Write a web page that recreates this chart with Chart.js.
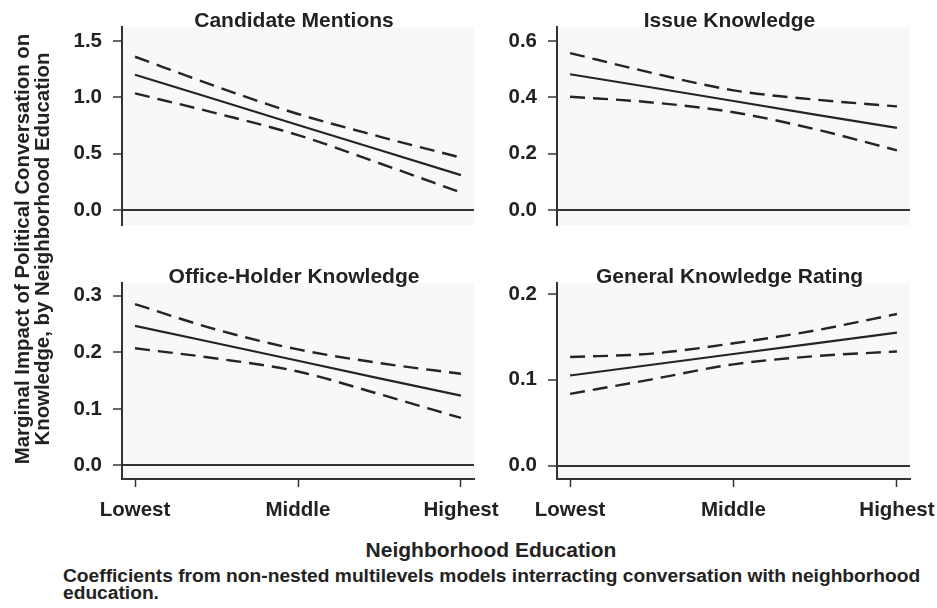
<!DOCTYPE html>
<html>
<head>
<meta charset="utf-8">
<script src="https://cdn.jsdelivr.net/npm/chart.js@4.4.1/dist/chart.umd.min.js"></script>
<style>
  html, body { margin: 0; padding: 0; background: #fff; }
  body {
    width: 937px; height: 608px; position: relative; overflow: hidden;
    font-family: "Liberation Sans", Arial, Helvetica, sans-serif;
    font-weight: bold; color: #222;
  }
  canvas { position: absolute; }
  .ytitle {
    position: absolute; left: -218.1px; top: 229px; width: 500px; height: 40px;
    font-size: 20.4px; line-height: 20px; text-align: center; white-space: nowrap;
    transform: rotate(-90deg); transform-origin: 50% 50%;
  }
  .xtitle {
    position: absolute; left: 291px; top: 538.5px; width: 400px;
    font-size: 21px; line-height: 22px; text-align: center; white-space: nowrap;
  }
  .caption {
    position: absolute; left: 63px; top: 567px; width: 874px;
    font-size: 19.2px; line-height: 17px; white-space: nowrap;
  }
</style>
</head>
<body>
<canvas id="pCand" width="500" height="240" style="left:0;top:0;width:500px;height:240px"></canvas>
<canvas id="pIssue" width="457" height="240" style="left:480px;top:0;width:457px;height:240px"></canvas>
<canvas id="pOffice" width="500" height="280" style="left:0;top:250px;width:500px;height:280px"></canvas>
<canvas id="pGeneral" width="457" height="280" style="left:480px;top:250px;width:457px;height:280px"></canvas>

<div class="ytitle">Marginal Impact of Political Conversation on<br>Knowledge, by Neighborhood Education</div>
<div class="xtitle">Neighborhood Education</div>
<div class="caption">Coefficients from non-nested multilevels models interracting conversation with neighborhood<br>education.</div>

<script>
// Neighborhood education positions (0 = lowest, 1 = highest)
const eduLevels = [0, 0.25, 0.5, 0.75, 1];
const eduTickValues = [0, 0.5, 1];
const eduTickLabels = ['Lowest', 'Middle', 'Highest'];

// Candidate Mentions: estimate with upper/lower confidence bounds
const candTitle = 'Candidate Mentions';
const candEst   = [1.20, 0.978, 0.755, 0.533, 0.31];
const candUpper = [1.36, 1.095, 0.852, 0.652, 0.465];
const candLower = [1.035, 0.858, 0.665, 0.415, 0.155];
const candYTicks = [0, 0.5, 1.0, 1.5];

// Issue Knowledge
const issueTitle = 'Issue Knowledge';
const issueEst   = [0.482, 0.435, 0.387, 0.339, 0.292];
const issueUpper = [0.557, 0.487, 0.425, 0.392, 0.368];
const issueLower = [0.402, 0.382, 0.347, 0.287, 0.212];
const issueYTicks = [0, 0.2, 0.4, 0.6];

// Office-Holder Knowledge
const officeTitle = 'Office-Holder Knowledge';
const officeEst   = [0.2466, 0.216, 0.185, 0.154, 0.1233];
const officeUpper = [0.285, 0.240, 0.205, 0.181, 0.162];
const officeLower = [0.207, 0.189, 0.166, 0.126, 0.084];
const officeYTicks = [0, 0.1, 0.2, 0.3];

// General Knowledge Rating
const genTitle = 'General Knowledge Rating';
const genEst   = [0.105, 0.1175, 0.130, 0.1425, 0.155];
const genUpper = [0.1265, 0.1305, 0.1425, 0.1575, 0.1767];
const genLower = [0.0835, 0.1005, 0.118, 0.1275, 0.133];
const genYTicks = [0, 0.1, 0.2];

const INK = '#242424';
const AXIS = '#333333';
const FONT = '"Liberation Sans", Arial, Helvetica, sans-serif';

// Panel background and title centred over the plotting area
const panelDecor = {
  id: 'panelDecor',
  beforeDraw(chart) {
    const { ctx, chartArea: a } = chart;
    ctx.save();
    ctx.fillStyle = '#f8f8f8';
    ctx.fillRect(a.left, a.top, a.right - a.left, a.bottom - a.top);
    ctx.restore();
  },
  afterDraw(chart, args, opts) {
    const { ctx, chartArea: a } = chart;
    ctx.save();
    ctx.font = 'bold 21px ' + FONT;
    ctx.fillStyle = '#222';
    ctx.textAlign = 'center';
    ctx.textBaseline = 'alphabetic';
    ctx.fillText(opts.text, (a.left + a.right) / 2 - 4, a.top - 0.5);
    ctx.restore();
  }
};

function series(values) {
  return eduLevels.map((x, i) => ({ x: x, y: values[i] }));
}

function buildPanel(id, p) {
  const dashed = { borderDash: [15, 8], borderWidth: 2.4, cubicInterpolationMode: 'monotone', borderColor: INK };
  new Chart(document.getElementById(id), {
    type: 'line',
    data: {
      datasets: [
        Object.assign({ label: 'Upper', data: series(p.upper) }, dashed),
        { label: 'Estimate', data: series(p.est), borderWidth: 2.2, borderColor: INK, tension: 0 },
        Object.assign({ label: 'Lower', data: series(p.lower) }, dashed)
      ]
    },
    options: {
      responsive: false,
      animation: false,
      events: [],
      layout: { padding: p.padding },
      elements: { point: { radius: 0 }, line: { fill: false } },
      plugins: {
        legend: { display: false },
        tooltip: { enabled: false },
        title: { display: false },
        panelDecor: { text: p.title }
      },
      scales: {
        x: {
          type: 'linear', min: -0.04, max: 1.04,
          display: p.showX,
          afterBuildTicks: s => { s.ticks = eduTickValues.map(v => ({ value: v })); },
          ticks: {
            autoSkip: false, maxRotation: 0, padding: 11, color: '#222',
            font: { family: FONT, size: 20.5, weight: 'bold' },
            callback: (v, i) => eduTickLabels[i]
          },
          grid: { drawOnChartArea: false, drawTicks: true, tickLength: 8, tickColor: AXIS, tickWidth: 1.5 },
          border: { display: true, color: AXIS, width: 2 },
          afterFit: s => { s.height = p.xHeight; s.paddingLeft = 0; s.paddingRight = 0; }
        },
        y: {
          type: 'linear', min: p.yMin, max: p.yMax,
          afterBuildTicks: s => { s.ticks = p.yTicks.map(v => ({ value: v })); },
          ticks: {
            padding: 11, color: '#222',
            font: { family: FONT, size: 20.5, weight: 'bold' },
            callback: v => Number(v).toFixed(1)
          },
          grid: {
            drawOnChartArea: true, drawTicks: true, tickLength: 9,
            color: c => (c.tick && c.tick.value === 0) ? AXIS : 'rgba(0,0,0,0)',
            lineWidth: c => (c.tick && c.tick.value === 0) ? 2 : 0,
            tickColor: AXIS, tickWidth: 1.5
          },
          border: { display: true, color: AXIS, width: 2 },
          afterFit: s => { s.width = p.yWidth; s.paddingTop = 0; s.paddingBottom = 0; }
        }
      }
    },
    plugins: [panelDecor]
  });
}

buildPanel('pCand', {
  title: candTitle, est: candEst, upper: candUpper, lower: candLower, yTicks: candYTicks,
  yMin: -0.133, yMax: 1.624, showX: false, xHeight: 0, yWidth: 122,
  padding: { top: 27, right: 26, bottom: 15, left: 0 }
});
buildPanel('pIssue', {
  title: issueTitle, est: issueEst, upper: issueUpper, lower: issueLower, yTicks: issueYTicks,
  yMin: -0.053, yMax: 0.6497, showX: false, xHeight: 0, yWidth: 77,
  padding: { top: 27, right: 27, bottom: 15, left: 0 }
});
buildPanel('pOffice', {
  title: officeTitle, est: officeEst, upper: officeUpper, lower: officeLower, yTicks: officeYTicks,
  yMin: -0.0239, yMax: 0.3224, showX: true, xHeight: 51, yWidth: 122,
  padding: { top: 33, right: 26, bottom: 0, left: 0 }
});
buildPanel('pGeneral', {
  title: genTitle, est: genEst, upper: genUpper, lower: genLower, yTicks: genYTicks,
  yMin: -0.0157, yMax: 0.2128, showX: true, xHeight: 51, yWidth: 77,
  padding: { top: 33, right: 27, bottom: 0, left: 0 }
});
</script>
</body>
</html>
